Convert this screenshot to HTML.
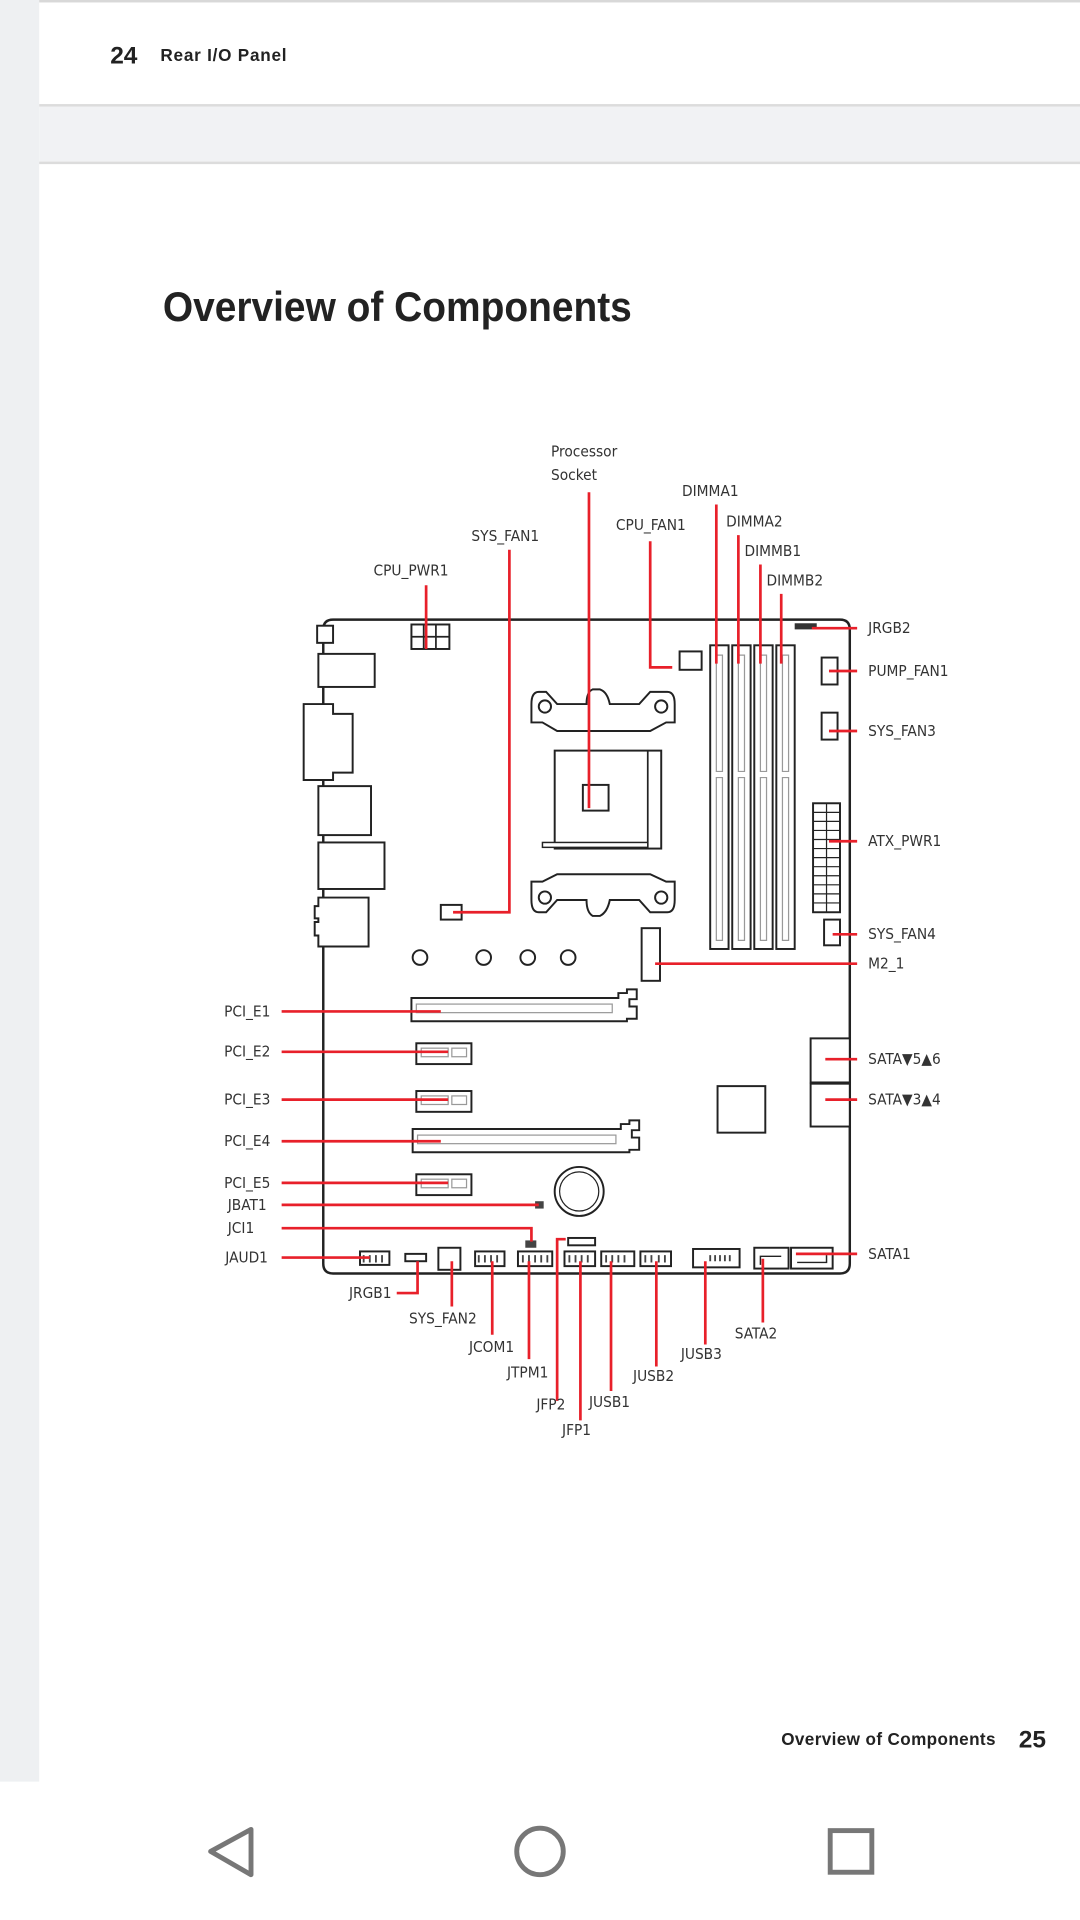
<!DOCTYPE html>
<html><head><meta charset="utf-8"><style>
html,body{margin:0;padding:0;width:1080px;height:1920px;overflow:hidden;background:#fff}
svg{display:block}
.l{font-family:"Liberation Sans Narrow","DejaVu Sans Condensed","Liberation Sans",sans-serif;font-size:12.5px;fill:#333}
.r{stroke:#e8202a;stroke-width:2.2;fill:none}
.k{stroke:#222;stroke-width:1.6;fill:#fff}
.g{stroke:#999;stroke-width:1;fill:none}
</style></head><body>
<svg width="1080" height="1920" viewBox="0 0 882 1568" preserveAspectRatio="none" xmlns="http://www.w3.org/2000/svg">
<rect x="0" y="0" width="882" height="1568" fill="#fff"/>
<rect x="0" y="0" width="32" height="1455" fill="#eef0f2"/>
<rect x="32" y="0" width="850" height="2" fill="#d8d8d8"/>
<rect x="32" y="86" width="850" height="48" fill="#f1f2f4"/>
<rect x="32" y="85" width="850" height="2" fill="#dcdcdc"/>
<rect x="32" y="132" width="850" height="2" fill="#dcdcdc"/>
<text x="90" y="52" font-family="Liberation Sans Narrow,Liberation Sans,sans-serif" font-weight="bold" font-size="20" fill="#222">24</text>
<text x="131" y="50" font-family="Liberation Sans Narrow,Liberation Sans,sans-serif" font-weight="bold" font-size="14" fill="#222" textLength="103">Rear I/O Panel</text>
<text x="133" y="262" font-family="Liberation Sans Narrow,Liberation Sans,sans-serif" font-weight="bold" font-size="34" fill="#222" textLength="383" lengthAdjust="spacingAndGlyphs">Overview of Components</text>
<text x="638" y="1425" font-family="Liberation Sans Narrow,Liberation Sans,sans-serif" font-weight="bold" font-size="14" fill="#222" textLength="175">Overview of Components</text>
<text x="832" y="1427" font-family="Liberation Sans Narrow,Liberation Sans,sans-serif" font-weight="bold" font-size="20" fill="#222">25</text>
<!-- nav -->
<path d="M205 1494 L172 1512 L205 1531 Z" fill="none" stroke="#777" stroke-width="4" stroke-linejoin="round"/>
<circle cx="441" cy="1512" r="19" fill="none" stroke="#777" stroke-width="4"/>
<rect x="678" y="1495" width="34" height="34" fill="none" stroke="#777" stroke-width="4"/>

<!-- board -->
<path d="M272 506 H686 Q694 506 694 514 V1032 Q694 1040 686 1040 H272 Q264 1040 264 1032 V514 Q264 506 272 506 Z" fill="#fff" stroke="#222" stroke-width="2"/>
<!-- rear io -->
<rect class="k" x="259" y="511" width="13" height="14"/>
<rect class="k" x="260" y="534" width="46" height="27"/>
<path class="k" d="M248 575 H272 V583 H288 V631 H272 V637 H248 Z"/>
<rect class="k" x="260" y="642" width="43" height="40"/>
<rect class="k" x="260" y="688" width="54" height="38"/>
<path class="k" d="M260 733 H301 V773 H260 V764 H257 V753 H260 V750 H257 V740 H260 Z"/>
<!-- cpu pwr -->
<rect class="k" x="336" y="510" width="31" height="20"/>
<path d="M346 510V530M356 510V530M336 520H367" stroke="#222" stroke-width="1.4"/>
<!-- socket brackets -->
<path class="k" d="M440 565 Q434 565 434 575 V590 H443 L455 597 H531 L544 590 H551 V575 Q551 565 545 565 H531 L522 575 H498 Q496 565 490 563 H484 Q479 565 479 575 H455 L446 565 Z"/>
<circle class="k" cx="445" cy="577" r="5"/><circle class="k" cx="540" cy="577" r="5"/>
<path class="k" d="M440 745 Q434 745 434 735 V720 H443 L455 714 H531 L544 720 H551 V735 Q551 745 545 745 H531 L522 735 H498 Q496 745 490 748 H484 Q479 745 479 735 H455 L446 745 Z"/>
<circle class="k" cx="445" cy="733" r="5"/><circle class="k" cx="540" cy="733" r="5"/>
<rect class="k" x="453" y="613" width="87" height="80"/>
<line x1="529" y1="613" x2="529" y2="693" stroke="#222" stroke-width="1.4"/>
<rect x="443" y="688" width="86" height="4" fill="#fff" stroke="#222" stroke-width="1.2"/>
<rect class="k" x="476" y="641" width="21" height="21"/>
<!-- sys fan1 / cpu fan -->
<rect class="k" x="360" y="739" width="17" height="12"/>
<rect class="k" x="555" y="532" width="18" height="15"/>
<!-- dimms -->
<g>
<rect class="k" x="580" y="527" width="15" height="248"/>
<rect class="k" x="598" y="527" width="15" height="248"/>
<rect class="k" x="616" y="527" width="15" height="248"/>
<rect class="k" x="634" y="527" width="15" height="248"/>
<path class="g" d="M585 535V630H590V535ZM585 635V768H590V635Z M603 535V630H608V535ZM603 635V768H608V635Z M621 535V630H626V535ZM621 635V768H626V635Z M639 535V630H644V535ZM639 635V768H644V635Z"/>
</g>
<!-- right connectors -->
<rect x="649" y="509" width="18" height="5" fill="#333"/>
<rect class="k" x="671" y="537" width="13" height="22"/>
<rect class="k" x="671" y="582" width="13" height="22"/>
<rect class="k" x="664" y="656" width="22" height="89"/>
<path d="M675 656V745M664 663.4H686M664 670.8H686M664 678.2H686M664 685.6H686M664 693H686M664 700.4H686M664 707.8H686M664 715.2H686M664 722.6H686M664 730H686M664 737.4H686" stroke="#222" stroke-width="1"/>
<rect class="k" x="673" y="751" width="13" height="21"/>
<rect class="k" x="524" y="758" width="15" height="43"/>
<circle class="k" cx="343" cy="782" r="6"/><circle class="k" cx="395" cy="782" r="6"/><circle class="k" cx="431" cy="782" r="6"/><circle class="k" cx="464" cy="782" r="6"/>
<!-- pcie -->
<path class="k" d="M336 815H505V811H512V808H520V816H514V822H520V832H512V834H505V834H336Z"/>
<rect class="g" x="340" y="820" width="160" height="7"/>
<rect class="k" x="340" y="852" width="45" height="17"/><rect class="g" x="344" y="856" width="22" height="7"/><rect class="g" x="369" y="856" width="12" height="7"/>
<rect class="k" x="340" y="891" width="45" height="17"/><rect class="g" x="344" y="895" width="22" height="7"/><rect class="g" x="369" y="895" width="12" height="7"/>
<path class="k" d="M337 922H507V918H514V915H522V923H516V929H522V939H514V941H507H337Z"/>
<rect class="g" x="341" y="927" width="162" height="7"/>
<rect class="k" x="340" y="959" width="45" height="17"/><rect class="g" x="344" y="963" width="22" height="7"/><rect class="g" x="369" y="963" width="12" height="7"/>
<circle class="k" cx="473" cy="973" r="20"/><circle cx="473" cy="973" r="16" fill="none" stroke="#222" stroke-width="1"/>
<rect class="k" x="586" y="887" width="39" height="38"/>
<rect class="k" x="662" y="848" width="32" height="36"/>
<rect class="k" x="662" y="885" width="32" height="35"/>
<!-- bottom connectors -->
<rect x="437" y="981" width="7" height="6" fill="#444"/>
<rect x="429" y="1013" width="9" height="6" fill="#444"/>
<rect class="k" x="294" y="1022" width="24" height="11"/>
<rect class="k" x="331" y="1024" width="17" height="6"/>
<rect class="k" x="358" y="1019" width="18" height="18"/>
<rect class="k" x="388" y="1022" width="24" height="12"/>
<rect class="k" x="423" y="1022" width="28" height="12"/>
<rect class="k" x="464" y="1011" width="22" height="6"/>
<rect class="k" x="461" y="1022" width="25" height="12"/>
<rect class="k" x="491" y="1022" width="27" height="12"/>
<rect class="k" x="523" y="1022" width="25" height="12"/>
<rect class="k" x="566" y="1020" width="38" height="15"/>
<rect class="k" x="616" y="1019" width="28" height="17"/><path d="M621 1033V1026H638" stroke="#222" stroke-width="1.2" fill="none"/>
<rect class="k" x="646" y="1019" width="34" height="17"/><path d="M651 1031H675V1025" stroke="#222" stroke-width="1.2" fill="none"/>
<path d="M297 1025V1031M302 1025V1031M307 1025V1031M312 1025V1031M391 1025V1031M396 1025V1031M401 1025V1031M406 1025V1031M427 1025V1031M432 1025V1031M437 1025V1031M442 1025V1031M447 1025V1031M465 1025V1031M470 1025V1031M475 1025V1031M480 1025V1031M495 1025V1031M500 1025V1031M505 1025V1031M510 1025V1031M527 1025V1031M532 1025V1031M538 1025V1031M543 1025V1031M580 1025V1030M584 1025V1030M588 1025V1030M592 1025V1030M596 1025V1030" stroke="#444" stroke-width="1.5"/>

<!-- red leader lines -->
<path class="r" d="M481 402V660 M585 412V542 M603 437V542 M621 461V542 M638 485V542 M531 442V545H549 M416 449V745H370 M348 478V530 M663 513H700 M677 548H700 M677 597H700 M677 687H700 M680 763H700 M535 787H700 M674 865H700 M674 898H700 M650 1024H700 M230 826H360 M230 859H366 M230 898H366 M230 932H360 M230 966H366 M230 984H440 M230 1003H434V1014 M230 1027H302 M341 1030V1056H324 M369 1030V1067 M402 1030V1090 M432 1030V1110 M462 1012H455V1144 M499 1030V1136 M474 1030V1160 M536 1030V1116 M576 1030V1098 M623 1028V1080"/>

<!-- labels -->
<g class="l">
<text x="450" y="373">Processor</text><text x="450" y="392">Socket</text>
<text x="557" y="405">DIMMA1</text>
<text x="593" y="430">DIMMA2</text>
<text x="608" y="454">DIMMB1</text>
<text x="626" y="478">DIMMB2</text>
<text x="503" y="433">CPU_FAN1</text>
<text x="385" y="442">SYS_FAN1</text>
<text x="305" y="470">CPU_PWR1</text>
<text x="709" y="517">JRGB2</text>
<text x="709" y="552">PUMP_FAN1</text>
<text x="709" y="601">SYS_FAN3</text>
<text x="709" y="691">ATX_PWR1</text>
<text x="709" y="767">SYS_FAN4</text>
<text x="709" y="791">M2_1</text>
<text x="709" y="869">SATA▼5▲6</text>
<text x="709" y="902">SATA▼3▲4</text>
<text x="709" y="1028">SATA1</text>
<text x="183" y="830">PCI_E1</text>
<text x="183" y="863">PCI_E2</text>
<text x="183" y="902">PCI_E3</text>
<text x="183" y="936">PCI_E4</text>
<text x="183" y="970">PCI_E5</text>
<text x="186" y="988">JBAT1</text>
<text x="186" y="1007">JCI1</text>
<text x="184" y="1031">JAUD1</text>
<text x="285" y="1060">JRGB1</text>
<text x="334" y="1081">SYS_FAN2</text>
<text x="383" y="1104">JCOM1</text>
<text x="414" y="1125">JTPM1</text>
<text x="438" y="1151">JFP2</text>
<text x="481" y="1149">JUSB1</text>
<text x="459" y="1172">JFP1</text>
<text x="517" y="1128">JUSB2</text>
<text x="556" y="1110">JUSB3</text>
<text x="600" y="1093">SATA2</text>
</g>
</svg>
</body></html>
